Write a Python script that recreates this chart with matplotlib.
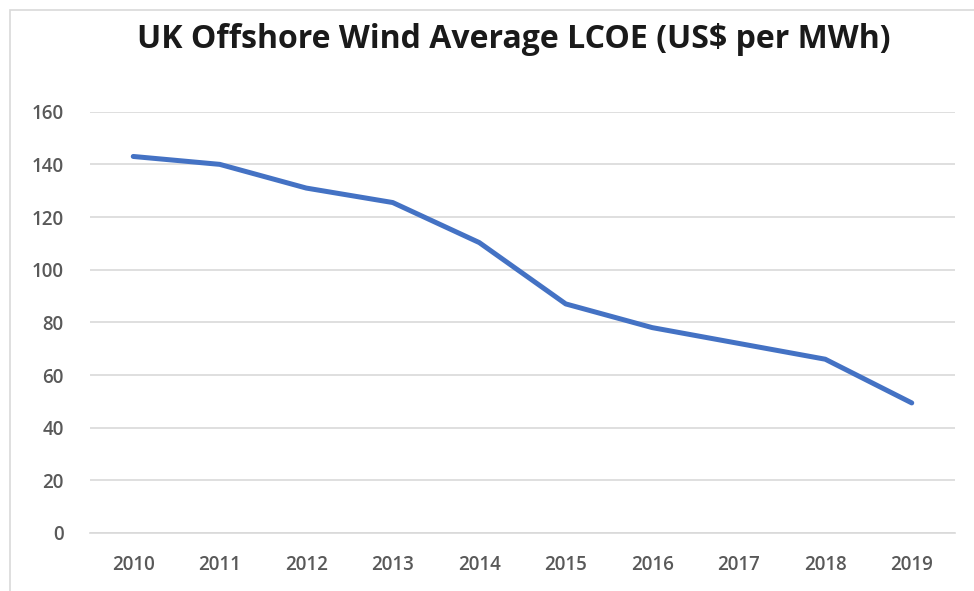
import matplotlib
matplotlib.use("Agg")
import matplotlib.pyplot as plt
from matplotlib.patches import Rectangle

years = ["2010", "2011", "2012", "2013", "2014", "2015", "2016", "2017", "2018", "2019"]
lcoe = [143, 140, 131, 125.5, 110.3, 87, 78, 72, 66, 49.4]
yticks = [0, 20, 40, 60, 80, 100, 120, 140, 160]
title = "UK Offshore Wind Average LCOE (US$ per MWh)"

W, H = 974, 591
fig = plt.figure(figsize=(W / 100, H / 100), dpi=100)
fig.patch.set_facecolor("white")

# chart-area border
fig.add_artist(Rectangle((10 / W, -0.05), 1.1, 1.05 - 10 / H, transform=fig.transFigure,
                         fill=False, edgecolor="#d9d9d9", linewidth=1.2))

left, right = 90 / W, 955 / W
bottom, top = (H - 533) / H, (H - 111.7) / H
ax = fig.add_axes([left, bottom, right - left, top - bottom])

x = list(range(len(years)))
ax.plot(x, lcoe, color="#4472C4", linewidth=3.6, solid_capstyle="round", solid_joinstyle="round", zorder=3)

ax.set_xlim(-0.5, len(years) - 0.5)
ax.set_ylim(0, 160)
ax.set_yticks(yticks)
ax.set_xticks(x)
ax.set_xticklabels(years)
ax.yaxis.grid(True, color="#d9d9d9", linewidth=1.2)
ax.set_axisbelow(True)
for s in ["top", "right", "left"]:
    ax.spines[s].set_visible(False)
ax.spines["bottom"].set_color("#d9d9d9")
ax.spines["bottom"].set_linewidth(1.2)
ax.tick_params(axis="both", length=0, colors="#595959", labelsize=13.5)
ax.tick_params(axis="y", pad=19)
ax.tick_params(axis="x", pad=16)
for lab in ax.get_xticklabels() + ax.get_yticklabels():
    lab.set_family("Open Sans")
    lab.set_fontweight("semibold")

fig.text(514 / W, 1 - 40 / H, title, ha="center", va="center", fontsize=23,
         fontweight="bold", family="Open Sans", color="#1a1a1a")

fig.savefig("out.png", dpi=100, facecolor="white")
